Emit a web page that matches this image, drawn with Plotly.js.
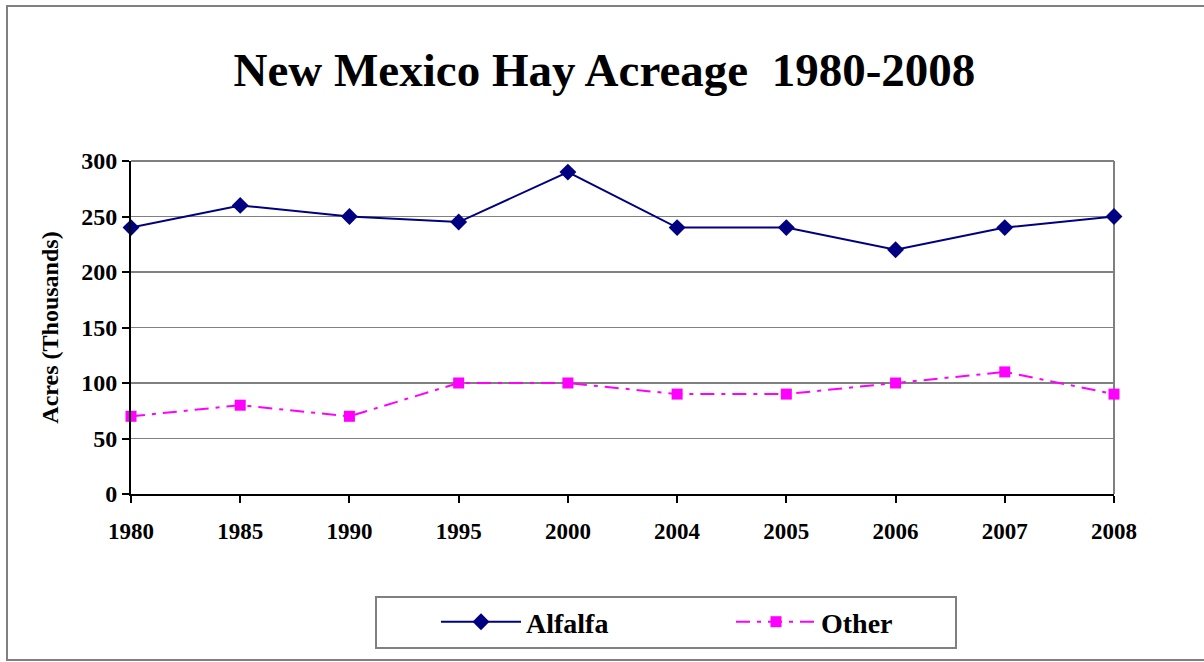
<!DOCTYPE html>
<html>
<head>
<meta charset="utf-8">
<script src="https://cdn.plot.ly/plotly-3.0.1.min.js"></script>
<style>
html,body{margin:0;padding:0;background:#fff;}
#wrap{position:relative;width:1204px;height:662px;overflow:hidden;}
#chart{width:1204px;height:662px;}
#frame{position:absolute;left:6px;top:5px;width:1220px;height:652px;border:2px solid #808080;pointer-events:none;}
</style>
</head>
<body>
<div id="wrap"><div id="chart"></div><div id="frame"></div></div>
<script>
const years = ["1980","1985","1990","1995","2000","2004","2005","2006","2007","2008"];
const alfalfa = [240, 260, 250, 245, 290, 240, 240, 220, 240, 250];
const other = [70, 80, 70, 100, 100, 90, 90, 100, 110, 90];
const seriesNames = ["Alfalfa", "Other"];
const yTicks = [0, 50, 100, 150, 200, 250, 300];

const font = "Liberation Serif, Times New Roman, serif";

const traces = [
  {
    x: years, y: alfalfa, name: seriesNames[0], type: "scatter", mode: "lines+markers",
    line: {color: "#000080", width: 2},
    marker: {symbol: "diamond", size: 13, color: "#000080"},
    cliponaxis: false
  },
  {
    x: years, y: other, name: seriesNames[1], type: "scatter", mode: "lines+markers",
    line: {color: "#FF00FF", width: 2, dash: "14px,7px,4px,7px"},
    marker: {symbol: "square", size: 11, color: "#FF00FF"},
    cliponaxis: false
  }
];

const layout = {
  width: 1204, height: 662,
  margin: {l: 131, r: 90, t: 161, b: 168},
  paper_bgcolor: "#ffffff", plot_bgcolor: "#ffffff",
  font: {family: font, color: "#000"},
  title: {
    text: "<b>New Mexico Hay Acreage  1980-2008</b>",
    font: {family: font, size: 47, color: "#000"},
    x: 0.502, xref: "container", xanchor: "center",
    y: 1 - 70/662, yref: "container", yanchor: "middle"
  },
  xaxis: {
    type: "category", range: [0, 9],
    showgrid: false, showline: true, linecolor: "#000", linewidth: 2,
    ticks: "outside", ticklen: 7, tickwidth: 2, tickcolor: "#000",
    tickfont: {family: font, size: 23, color: "#000", weight: "bold"},
    ticklabelstandoff: 8,
    zeroline: false, fixedrange: true
  },
  yaxis: {
    range: [0, 300], tickvals: yTicks, ticktext: yTicks.map(String),
    showgrid: true, gridcolor: "#808080", gridwidth: 1.5,
    showline: true, linecolor: "#000", linewidth: 2,
    ticks: "outside", ticklen: 7, tickwidth: 2, tickcolor: "#000",
    tickfont: {family: font, size: 24, color: "#000", weight: "bold"},
    zeroline: false,
    title: {text: "<b>Acres (Thousands)</b>", font: {family: font, size: 24, color: "#000"}, standoff: 16},
    fixedrange: true
  },
  shapes: [
    {type: "line", xref: "paper", yref: "paper", x0: 1, x1: 1, y0: 0, y1: 1,
     line: {color: "#808080", width: 2}, layer: "below"},
    {type: "line", xref: "paper", yref: "paper", x0: 0, x1: 1, y0: 1, y1: 1,
     line: {color: "#808080", width: 2}, layer: "below"},
    {type: "rect", xref: "paper", yref: "paper",
     x0: (376-131)/983, x1: (956-131)/983, y0: (494-648)/333, y1: (494-597)/333,
     line: {color: "#808080", width: 2}, fillcolor: "rgba(0,0,0,0)"}
  ],
  showlegend: true,
  legend: {
    orientation: "h", x: (436-131)/983, xanchor: "left", y: (494-597)/333, yanchor: "top",
    borderwidth: 0, bgcolor: "rgba(0,0,0,0)",
    font: {family: font, size: 28, color: "#000", weight: "bold"},
    entrywidth: 200, itemwidth: 80
  }
};

Plotly.newPlot("chart", traces, layout, {displayModeBar: false, staticPlot: true});
</script>
</body>
</html>
